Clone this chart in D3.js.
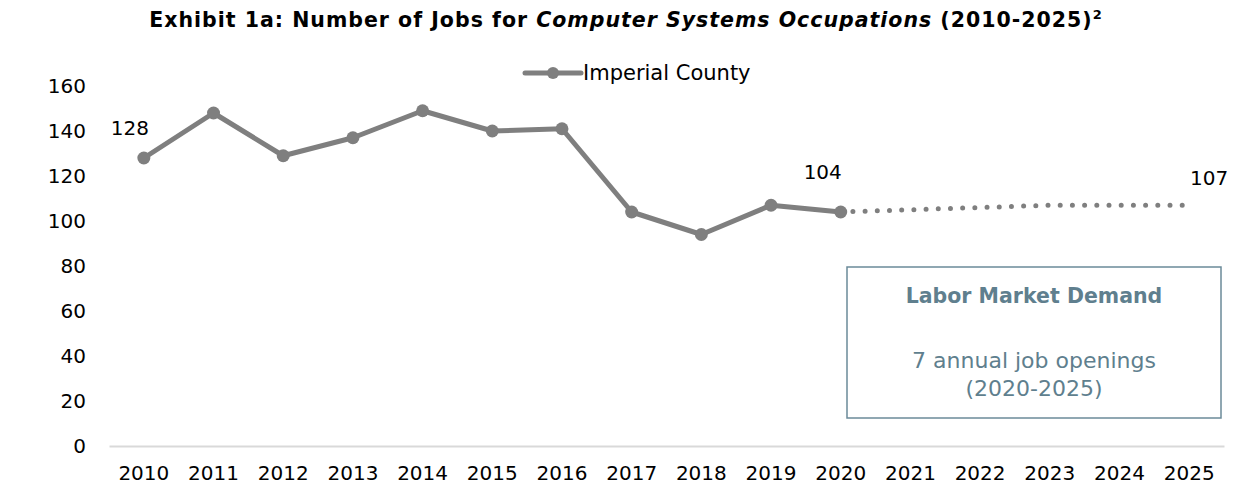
<!DOCTYPE html>
<html>
<head>
<meta charset="utf-8">
<script src="https://cdn.jsdelivr.net/npm/d3@7"></script>
<style>
  body { margin: 0; background: #fff; }
  svg { display: block; font-family: "DejaVu Sans", sans-serif; }
</style>
</head>
<body>
<svg id="chart" width="1252" height="495"></svg>
<script>
// data
const years = [2010, 2011, 2012, 2013, 2014, 2015, 2016, 2017, 2018, 2019, 2020, 2021, 2022, 2023, 2024, 2025];
const actualYears = [2010, 2011, 2012, 2013, 2014, 2015, 2016, 2017, 2018, 2019, 2020];
const actualJobs = [128, 148, 129, 137, 149, 140, 141, 104, 94, 107, 104];
const projYears = [2020, 2021, 2022, 2023, 2024, 2025];
const projJobs = [104, 105, 106, 107, 107, 107];
const yTicks = [0, 20, 40, 60, 80, 100, 120, 140, 160];
const labelled = [
  {year: 2010, value: 128, dx: -14, dy: -30},
  {year: 2020, value: 104, dx: -18, dy: -40},
  {year: 2025, value: 107, dx: 20, dy: -27}
];
const seriesName = 'Imperial County';
const boxTitle = 'Labor Market Demand';
const boxLines = ['7 annual job openings', '(2020-2025)'];

// layout
const margin = {t: 86, r: 28, b: 49, l: 109};
const width = 1252, height = 495;
const lineColor = '#7f7f7f';
const boxColor = '#6b8a99';
const font = '"DejaVu Sans", sans-serif';

const svg = d3.select('#chart');

const x = d3.scaleBand()
  .domain(years)
  .range([margin.l, width - margin.r]);
const cx = d => x(d) + x.bandwidth() / 2;

const y = d3.scaleLinear()
  .domain([0, 160])
  .range([height - margin.b, margin.t]);

// title
const title = svg.append('text')
  .attr('x', 626)
  .attr('y', 27)
  .attr('text-anchor', 'middle')
  .style('font-size', '20.5px')
  .style('letter-spacing', '1px')
  .style('font-weight', 'bold')
  .style('fill', '#000');
title.append('tspan').text('Exhibit 1a: Number of Jobs for ');
title.append('tspan').style('font-style', 'italic').text('Computer Systems Occupations');
title.append('tspan').text(' (2010-2025)');
title.append('tspan').attr('dy', -8).style('font-size', '13px').text('2');

// y axis labels (no line)
const yAxis = d3.axisLeft(y).tickValues(yTicks).tickSize(0).tickPadding(23);
svg.append('g')
  .attr('transform', `translate(${margin.l},0)`)
  .call(yAxis)
  .call(g => g.select('.domain').remove())
  .call(g => g.selectAll('text')
    .style('font-family', font)
    .style('font-size', '20px')
    .style('fill', '#000'));

// x axis
const xAxis = d3.axisBottom(x).tickSize(0).tickPadding(20);
svg.append('g')
  .attr('transform', `translate(0,${y(0)})`)
  .call(xAxis)
  .call(g => g.select('.domain').attr('stroke', '#d9d9d9').attr('stroke-width', 2))
  .call(g => g.selectAll('text')
    .style('font-family', font)
    .style('font-size', '20px')
    .style('fill', '#000'));

// legend
const legend = svg.append('g').attr('transform', 'translate(525,73)');
legend.append('line')
  .attr('x1', 0).attr('x2', 56)
  .attr('stroke', lineColor).attr('stroke-width', 5).attr('stroke-linecap', 'round');
legend.append('circle').attr('cx', 28).attr('r', 6).attr('fill', lineColor);
legend.append('text')
  .attr('x', 58).attr('dy', '0.35em')
  .style('font-size', '21px')
  .text(seriesName);

// projected dotted line
const line = d3.line().x(d => cx(d[0])).y(d => y(d[1]));
svg.append('path')
  .datum(d3.zip(projYears, projJobs))
  .attr('d', line)
  .attr('fill', 'none')
  .attr('stroke', lineColor)
  .attr('stroke-width', 5)
  .attr('stroke-linecap', 'round')
  .attr('stroke-dasharray', '0,12.2');

// actual line with markers
const actual = d3.zip(actualYears, actualJobs);
svg.append('path')
  .datum(actual)
  .attr('d', line)
  .attr('fill', 'none')
  .attr('stroke', lineColor)
  .attr('stroke-width', 5)
  .attr('stroke-linejoin', 'round');
svg.selectAll('.pt')
  .data(actual)
  .join('circle')
  .attr('class', 'pt')
  .attr('cx', d => cx(d[0]))
  .attr('cy', d => y(d[1]))
  .attr('r', 6.5)
  .attr('fill', lineColor);

// data labels
svg.selectAll('.dl')
  .data(labelled)
  .join('text')
  .attr('class', 'dl')
  .attr('x', d => cx(d.year) + d.dx)
  .attr('y', d => y(d.value) + d.dy)
  .attr('text-anchor', 'middle')
  .attr('dy', '0.35em')
  .style('font-size', '20px')
  .text(d => d.value);

// annotation box
const box = svg.append('g');
box.append('rect')
  .attr('x', 847).attr('y', 267)
  .attr('width', 374).attr('height', 151)
  .attr('fill', '#fff')
  .attr('stroke', boxColor)
  .attr('stroke-width', 1.5);
box.append('text')
  .attr('x', 1034).attr('y', 296)
  .attr('dy', '0.35em')
  .attr('text-anchor', 'middle')
  .style('font-size', '20.5px')
  .style('font-weight', 'bold')
  .style('fill', '#5f7f8e')
  .text(boxTitle);
box.selectAll('.bl')
  .data(boxLines)
  .join('text')
  .attr('class', 'bl')
  .attr('x', 1034)
  .attr('y', (d, i) => 360 + i * 28)
  .attr('dy', '0.35em')
  .attr('text-anchor', 'middle')
  .style('font-size', '22px')
  .style('fill', '#5f7f8e')
  .text(d => d);
</script>
</body>
</html>
